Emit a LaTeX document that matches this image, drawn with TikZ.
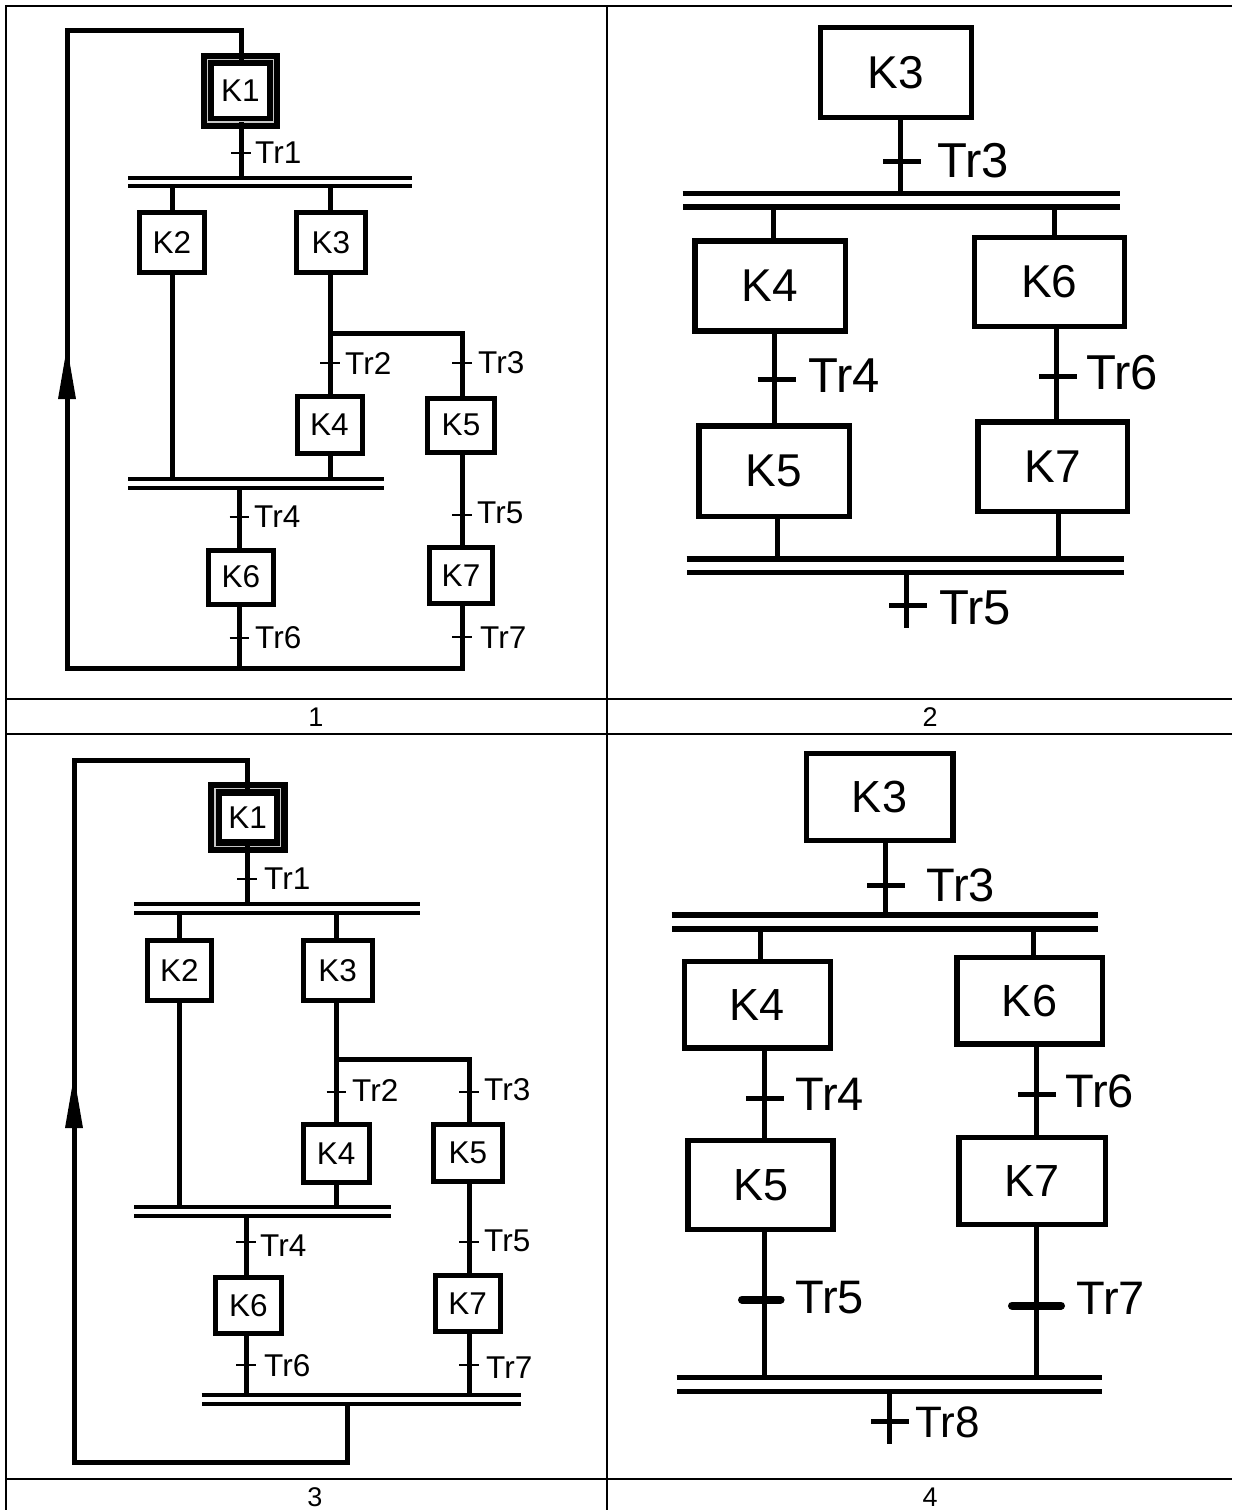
\documentclass[tikz,border=0pt]{standalone}
\usepackage{fontspec}
\setmainfont{Liberation Sans}
\begin{document}
\begin{tikzpicture}[x=1pt,y=-1pt]
\tikzset{
 tbl/.style={line width=2pt},
 ln1/.style={line width=5pt},
 bx1/.style={draw, line width=5pt, rectangle, inner sep=0pt, outer sep=0pt, font=\fontsize{31.5}{32}\selectfont},
 kbx/.style={draw, line width=13pt, rectangle, inner sep=0pt, outer sep=0pt, font=\fontsize{31.5}{32}\selectfont},
 kin/.style={draw=gray!45, line width=1.3pt},
 br1/.style={line width=4pt, double distance=4.5pt, double=white},
 tk1/.style={line width=2pt},
 lb1/.style={anchor=west, inner sep=0pt, font=\fontsize{31.5}{32}\selectfont},
 ln2/.style={line width=5pt},
 bx2/.style={draw, line width=5.5pt, rectangle, inner sep=0pt, outer sep=0pt, font=\fontsize{46}{48}\selectfont},
 bx4/.style={draw, line width=5.5pt, rectangle, inner sep=0pt, outer sep=0pt, font=\fontsize{45}{47}\selectfont},
 br2/.style={line width=5.5pt, double distance=7.8pt, double=white},
 tk2/.style={line width=5pt},
 tk3/.style={line width=8pt, line cap=round},
 lb2/.style={anchor=west, inner sep=0pt, font=\fontsize{49}{51}\selectfont},
 lb4/.style={anchor=west, inner sep=0pt, font=\fontsize{47}{49}\selectfont},
 lb8/.style={anchor=west, inner sep=0pt, font=\fontsize{44}{46}\selectfont},
 num/.style={inner sep=0pt, font=\fontsize{27}{28}\selectfont},
 arr/.style={fill=black}
}
\useasboundingbox (0,0) rectangle (1232,1510);
% ---------------- table ----------------
\draw[tbl] (6,6) -- (1232,6);
\draw[tbl] (6,698.5) -- (1232,698.5);
\draw[tbl] (6,733.5) -- (1232,733.5);
\draw[tbl] (6,1479) -- (1232,1479);
\draw[line width=2.5pt] (6,5) -- (6,1510);
\draw[tbl] (607,5) -- (607,1510);
\node[num] (n1) at (316,717) {1};
\node[num] (n2) at (930,717) {2};
\node[num] (n3) at (315,1497) {3};
\node[num] (n4) at (930,1497) {4};

% ---------------- panel 1 ----------------
\node[kbx, minimum width=65.5pt, minimum height=62.5pt] (p1k1) at (240.5,90.75) {K1};
\draw[kin] (p1k1.south west) rectangle (p1k1.north east);
\node[bx1, minimum width=65pt, minimum height=60pt] (p1k2) at (172,242.5) {K2};
\node[bx1, minimum width=69pt, minimum height=60pt] (p1k3) at (331,242.5) {K3};
\node[bx1, minimum width=65pt, minimum height=57pt] (p1k4) at (329.5,425) {K4};
\node[bx1, minimum width=67pt, minimum height=54pt] (p1k5) at (461,425) {K5};
\node[bx1, minimum width=65pt, minimum height=54pt] (p1k6) at (241,577) {K6};
\node[bx1, minimum width=63pt, minimum height=56pt] (p1k7) at (461,575.5) {K7};
\coordinate (p1xa) at (241,0);
\coordinate (p1xb) at (172,0);
\coordinate (p1xc) at (330,0);
\coordinate (p1xd) at (462,0);
\coordinate (p1xe) at (239.5,0);
\coordinate (p1top) at (67,30);
\coordinate (p1bot) at (67,668);
\coordinate (p1b1) at (128,181.75);
\coordinate (p1b1e) at (412,181.75);
\coordinate (p1br) at (330,333);
\coordinate (p1b2) at (128,483.5);
\coordinate (p1b2e) at (384,483.5);
\draw[ln1] (p1k1.north -| p1xa) |- (p1top) -- (p1bot) -| (p1k7.south -| p1xd);
\draw[ln1] (p1k1.south -| p1xa) -- (p1b1 -| p1xa);
\draw[ln1] (p1b1 -| p1xb) -- (p1k2.north -| p1xb);
\draw[ln1] (p1b1 -| p1xc) -- (p1k3.north -| p1xc);
\draw[ln1] (p1k2.south -| p1xb) -- (p1b2 -| p1xb);
\draw[ln1] (p1k3.south -| p1xc) -- (p1br) -| (p1k5.north -| p1xd);
\draw[ln1] (p1br) -- (p1k4.north -| p1xc);
\draw[ln1] (p1k4.south -| p1xc) -- (p1b2 -| p1xc);
\draw[ln1] (p1b2 -| p1xe) -- (p1k6.north -| p1xe);
\draw[ln1] (p1k6.south -| p1xe) -- (p1bot -| p1xe);
\draw[ln1] (p1k5.south -| p1xd) -- (p1k7.north -| p1xd);
\draw[br1] (p1b1) -- (p1b1e);
\draw[br1] (p1b2) -- (p1b2e);
\fill[arr] (67,347) -- (76,399) -- (58,399) -- cycle;
% ticks & labels
\coordinate (p1t1) at (241,153);
\coordinate (p1t2) at (330,363);
\coordinate (p1t3) at (462,363);
\coordinate (p1t4) at (239.5,517);
\coordinate (p1t5) at (462,515);
\coordinate (p1t6) at (239.5,638);
\coordinate (p1t7) at (462,637);
\foreach \t in {p1t1,p1t2,p1t3,p1t4,p1t5,p1t6,p1t7}
  \draw[tk1] ([xshift=-10pt]\t) -- ([xshift=9.5pt]\t);
\node[lb1] (p1l1) at (255,153) {Tr1};
\node[lb1] (p1l2) at (345,363) {Tr2};
\node[lb1] (p1l3) at (478,363) {Tr3};
\node[lb1] (p1l4) at (254,517) {Tr4};
\node[lb1] (p1l5) at (477,513) {Tr5};
\node[lb1] (p1l6) at (255,638) {Tr6};
\node[lb1] (p1l7) at (480,638) {Tr7};

% ---------------- panel 3 ----------------
\node[kbx, line width=14pt, minimum width=65.6pt, minimum height=57.4pt] (p3k1) at (247.7,817.5) {K1};
\draw[kin] (p3k1.south west) rectangle (p3k1.north east);
\node[bx1, minimum width=64.3pt, minimum height=59.6pt] (p3k2) at (179.4,970.3) {K2};
\node[bx1, minimum width=69pt, minimum height=59.6pt] (p3k3) at (337.7,970.3) {K3};
\node[bx1, minimum width=65.8pt, minimum height=58pt] (p3k4) at (336.2,1153.5) {K4};
\node[bx1, minimum width=68.7pt, minimum height=56.7pt] (p3k5) at (467.9,1152.9) {K5};
\node[bx1, minimum width=66.2pt, minimum height=56.2pt] (p3k6) at (248.4,1305.3) {K6};
\node[bx1, minimum width=65pt, minimum height=56pt] (p3k7) at (467.7,1303.5) {K7};
\coordinate (p3xa) at (247,0);
\coordinate (p3xb) at (179.8,0);
\coordinate (p3xc) at (336.6,0);
\coordinate (p3xd) at (469,0);
\coordinate (p3xe) at (246.3,0);
\coordinate (p3xr) at (347.5,0);
\coordinate (p3top) at (74,760);
\coordinate (p3bot) at (74,1462);
\coordinate (p3b1) at (134,908.5);
\coordinate (p3b1e) at (420,908.5);
\coordinate (p3br) at (336.6,1059.8);
\coordinate (p3b2) at (134,1211.25);
\coordinate (p3b2e) at (391,1211.25);
\coordinate (p3b3) at (201.6,1399.5);
\coordinate (p3b3e) at (521.4,1399.5);
\draw[ln1] (p3b3 -| p3xr) |- (p3bot) -- (p3top) -| (p3k1.north -| p3xa);
\draw[ln1] (p3k1.south -| p3xa) -- (p3b1 -| p3xa);
\draw[ln1] (p3b1 -| p3xb) -- (p3k2.north -| p3xb);
\draw[ln1] (p3b1 -| p3xc) -- (p3k3.north -| p3xc);
\draw[ln1] (p3k2.south -| p3xb) -- (p3b2 -| p3xb);
\draw[ln1] (p3k3.south -| p3xc) -- (p3br) -| (p3k5.north -| p3xd);
\draw[ln1] (p3br) -- (p3k4.north -| p3xc);
\draw[ln1] (p3k4.south -| p3xc) -- (p3b2 -| p3xc);
\draw[ln1] (p3b2 -| p3xe) -- (p3k6.north -| p3xe);
\draw[ln1] (p3k6.south -| p3xe) -- (p3b3 -| p3xe);
\draw[ln1] (p3k5.south -| p3xd) -- (p3k7.north -| p3xd);
\draw[ln1] (p3k7.south -| p3xd) -- (p3b3 -| p3xd);
\draw[br1] (p3b1) -- (p3b1e);
\draw[br1] (p3b2) -- (p3b2e);
\draw[br1] (p3b3) -- (p3b3e);
\fill[arr] (74,1076) -- (83,1128) -- (65,1128) -- cycle;
\coordinate (p3t1) at (247,879);
\coordinate (p3t2) at (336.6,1092);
\coordinate (p3t3) at (469,1092);
\coordinate (p3t4) at (246.3,1242.4);
\coordinate (p3t5) at (469,1242.4);
\coordinate (p3t6) at (246.3,1365);
\coordinate (p3t7) at (469,1365);
\foreach \t in {p3t1,p3t2,p3t3,p3t4,p3t5,p3t6,p3t7}
  \draw[tk1] ([xshift=-10pt]\t) -- ([xshift=9.5pt]\t);
\node[lb1] (p3l1) at (264,879) {Tr1};
\node[lb1] (p3l2) at (352,1090) {Tr2};
\node[lb1] (p3l3) at (484,1090) {Tr3};
\node[lb1] (p3l4) at (260,1246) {Tr4};
\node[lb1] (p3l5) at (484,1241) {Tr5};
\node[lb1] (p3l6) at (264,1366) {Tr6};
\node[lb1] (p3l7) at (486,1368) {Tr7};

% ---------------- panel 2 ----------------
\node[bx2, minimum width=150.8pt, minimum height=90pt] (p2k3) at (896,72.3) {K3};
\node[bx2, minimum width=150.5pt, minimum height=90pt] (p2k4) at (770,285.8) {K4};
\node[bx2, minimum width=150pt, minimum height=89pt] (p2k6) at (1049.3,281.75) {K6};
\node[bx2, minimum width=150.5pt, minimum height=90.5pt] (p2k5) at (774,471) {K5};
\node[bx2, minimum width=149.5pt, minimum height=89.5pt] (p2k7) at (1052.5,466.5) {K7};
\coordinate (p2xa) at (900,0);
\coordinate (p2xb) at (773.3,0);
\coordinate (p2xc) at (774.5,0);
\coordinate (p2xd) at (777,0);
\coordinate (p2xe) at (1054,0);
\coordinate (p2xf) at (1056,0);
\coordinate (p2xg) at (1058,0);
\coordinate (p2b1) at (682.6,200.1);
\coordinate (p2b1e) at (1120,200.1);
\coordinate (p2b2) at (686.7,565.75);
\coordinate (p2b2e) at (1124,565.75);
\coordinate (p2end) at (906,627.6);
\draw[ln2] (p2k3.south -| p2xa) -- (p2b1 -| p2xa);
\draw[ln2] (p2b1 -| p2xb) -- (p2k4.north -| p2xb);
\draw[ln2] (p2k4.south -| p2xc) -- (p2k5.north -| p2xc);
\draw[ln2] (p2k5.south -| p2xd) -- (p2b2 -| p2xd);
\draw[ln2] (p2b1 -| p2xe) -- (p2k6.north -| p2xe);
\draw[ln2] (p2k6.south -| p2xf) -- (p2k7.north -| p2xf);
\draw[ln2] (p2k7.south -| p2xg) -- (p2b2 -| p2xg);
\draw[ln2] (p2b2 -| p2end) -- (p2end);
\draw[br2] (p2b1) -- (p2b1e);
\draw[br2] (p2b2) -- (p2b2e);
\coordinate (p2t3) at (900,161.4);
\coordinate (p2t4) at (774.5,379);
\coordinate (p2t6) at (1056,376.6);
\coordinate (p2t5) at (906,605);
\foreach \t in {p2t3,p2t4,p2t6,p2t5}
  \draw[tk2] ([xshift=-17pt]\t) -- ([xshift=21pt]\t);
\node[lb2] (p2l3) at (937,161) {Tr3};
\node[lb2] (p2l4) at (808,376) {Tr4};
\node[lb2] (p2l6) at (1086,373) {Tr6};
\node[lb2] (p2l5) at (939,608) {Tr5};

% ---------------- panel 4 ----------------
\node[bx4, minimum width=146.5pt, minimum height=87pt] (p4k3) at (879.5,797.2) {K3};
\node[bx4, minimum width=145.7pt, minimum height=86.6pt] (p4k4) at (757.4,1004.9) {K4};
\node[bx4, minimum width=145.5pt, minimum height=86.6pt] (p4k6) at (1029.5,1000.9) {K6};
\node[bx4, minimum width=145pt, minimum height=89pt] (p4k5) at (760.6,1185.2) {K5};
\node[bx4, minimum width=146.5pt, minimum height=87pt] (p4k7) at (1032,1181.2) {K7};
\coordinate (p4xa) at (885.4,0);
\coordinate (p4xb) at (760.4,0);
\coordinate (p4xc) at (764,0);
\coordinate (p4xe) at (1033.3,0);
\coordinate (p4xf) at (1036,0);
\coordinate (p4b1) at (671.7,922);
\coordinate (p4b1e) at (1097.8,922);
\coordinate (p4b2) at (676.6,1384.65);
\coordinate (p4b2e) at (1101.8,1384.65);
\coordinate (p4end) at (889.4,1443.8);
\draw[ln2] (p4k3.south -| p4xa) -- (p4b1 -| p4xa);
\draw[ln2] (p4b1 -| p4xb) -- (p4k4.north -| p4xb);
\draw[ln2] (p4k4.south -| p4xc) -- (p4k5.north -| p4xc);
\draw[ln2] (p4k5.south -| p4xc) -- (p4b2 -| p4xc);
\draw[ln2] (p4b1 -| p4xe) -- (p4k6.north -| p4xe);
\draw[ln2] (p4k6.south -| p4xf) -- (p4k7.north -| p4xf);
\draw[ln2] (p4k7.south -| p4xf) -- (p4b2 -| p4xf);
\draw[ln2] (p4b2 -| p4end) -- (p4end);
\draw[br2, double distance=8.4pt] (p4b1) -- (p4b1e);
\draw[br2, double distance=8.4pt] (p4b2) -- (p4b2e);
\coordinate (p4t3) at (885.4,885.2);
\coordinate (p4t4) at (764,1098);
\coordinate (p4t6) at (1036,1094.6);
\coordinate (p4t8) at (889.4,1421.4);
\coordinate (p4t5) at (764,1299.6);
\coordinate (p4t7) at (1036,1305.5);
\foreach \t in {p4t3,p4t4,p4t6,p4t8}
  \draw[tk2] ([xshift=-18pt]\t) -- ([xshift=20pt]\t);
\draw[tk3] ([xshift=-22pt]p4t5) -- ([xshift=16.6pt]p4t5);
\draw[tk3] ([xshift=-24pt]p4t7) -- ([xshift=25pt]p4t7);
\node[lb4] (p4l3) at (926,885) {Tr3};
\node[lb4] (p4l4) at (795,1094) {Tr4};
\node[lb4] (p4l6) at (1065,1091) {Tr6};
\node[lb4] (p4l5) at (795,1298) {Tr5};
\node[lb4] (p4l7) at (1076,1298) {Tr7};
\node[lb8] (p4l8) at (915,1422.6) {Tr8};
\end{tikzpicture}
\end{document}
